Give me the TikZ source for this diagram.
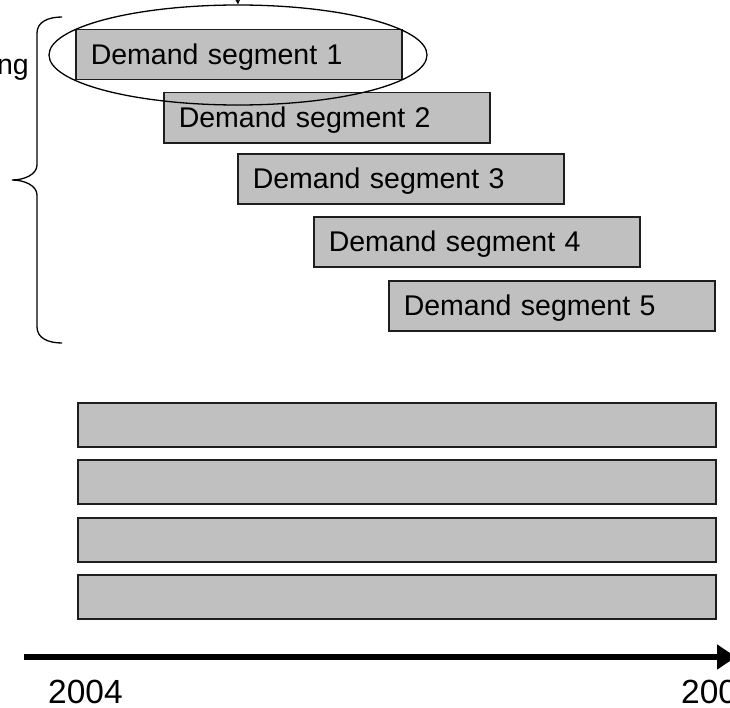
\documentclass[tikz,border=0pt]{standalone}
\usepackage{fontspec}
\setmainfont{Liberation Sans}
\usetikzlibrary{arrows.meta,shapes.geometric}
\definecolor{boxfill}{RGB}{192,192,192}
\definecolor{boxline}{RGB}{30,30,30}
\tikzset{
  segbox/.style={draw=boxline, line width=1.5bp, fill=boxfill, anchor=north west,
    minimum width=326bp, minimum height=50bp, text width=296bp, inner xsep=15bp, inner ysep=0pt,
    align=left, text height=20bp, text depth=0pt,
    font=\fontsize{28.5bp}{32bp}\selectfont},
  barbox/.style={draw=boxline, line width=1.5bp, fill=boxfill, anchor=north west,
    minimum width=638bp, minimum height=44bp, inner sep=0pt},
  lbl/.style={inner sep=0pt, font=\fontsize{28.5bp}{32bp}\selectfont},
  yearlbl/.style={inner sep=0pt, font=\fontsize{33.5bp}{36bp}\selectfont},
}
\begin{document}
\begin{tikzpicture}[x=1bp, y=-1bp]
\useasboundingbox (0,0) rectangle (730,708);
% brace
\draw[line width=1.3bp] (62,17) .. controls (48,17) and (37,22) .. (37,33)
  -- (37,165) .. controls (37,174) and (25,180) .. (12,180)
  .. controls (25,180) and (37,186) .. (37,195)
  -- (37,327) .. controls (37,338) and (48,343) .. (62,343);
\node[lbl, anchor=base east] (ng) at (29,75) {ng};
% demand segments
\node[segbox] (s1) at (75,29) {Demand segment 1};
\node[segbox] (s2) at (163,92) {Demand segment 2};
\node[segbox] (s3) at (237,153) {Demand segment 3};
\node[segbox] (s4) at (313,216) {Demand segment 4};
\node[segbox] (s5) at (388,280) {Demand segment 5};
% ellipse
\node[draw, ellipse, line width=1.3bp, minimum width=378bp, minimum height=100bp, inner sep=0pt] (ell) at (238,55) {};
\coordinate (top) at (237,-12);
\draw[line width=1.3bp, -{Stealth[length=5bp,width=5bp]}] (top) -- (ell.north);
% bars
\node[barbox] (b1) at (77,402) {};
\node[barbox] (b2) at (77,459) {};
\node[barbox] (b3) at (77,517) {};
\node[barbox] (b4) at (77,574) {};
% time axis
\coordinate (axs) at (24,657);
\coordinate (axe) at (736,657);
\draw[line width=5.5bp, -{Triangle[length=19bp,width=24bp]}] (axs) -- (axe);
\node[yearlbl, anchor=base west] (y1) at (48,703) {2004};
\node[yearlbl, anchor=base west] (y2) at (681,703) {200};
\end{tikzpicture}
\end{document}
